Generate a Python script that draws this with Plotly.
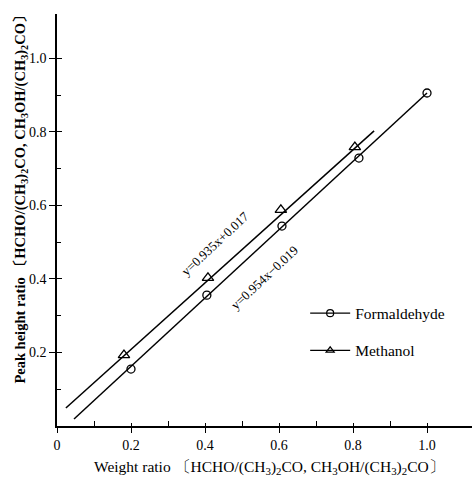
import plotly.graph_objects as go

# Data
form_x = [0.20, 0.405, 0.608, 0.816, 1.00]
form_y = [0.155, 0.356, 0.544, 0.729, 0.906]
meth_x = [0.181, 0.408, 0.605, 0.805]
meth_y = [0.193, 0.403, 0.588, 0.759]
# regression lines as drawn (end points)
form_fit_x = [0.046, 1.00]
form_fit_y = [0.019, 0.906]
meth_fit_x = [0.024, 0.857]
meth_fit_y = [0.049, 0.803]

x_ticks = [0, 0.2, 0.4, 0.6, 0.8, 1.0]
x_ticklabels = ["0", "0.2", "0.4", "0.6", "0.8", "1.0"]
y_ticks = [0.2, 0.4, 0.6, 0.8, 1.0]
y_ticklabels = ["0.2", "0.4", "0.6", "0.8", "1.0"]

FONT = "Liberation Serif"
XR = [0, 1.1216]
YR = [0, 1.121]

fig = go.Figure()
fig.add_trace(go.Scatter(x=form_fit_x, y=form_fit_y, mode="lines",
                         line=dict(color="black", width=1.5), showlegend=False))
fig.add_trace(go.Scatter(x=meth_fit_x, y=meth_fit_y, mode="lines",
                         line=dict(color="black", width=1.5), showlegend=False))
fig.add_trace(go.Scatter(x=form_x, y=form_y, mode="markers", showlegend=False,
                         marker=dict(symbol="circle-open", size=8, color="black",
                                     line=dict(width=1.3))))
fig.add_trace(go.Scatter(x=meth_x, y=meth_y, mode="markers", showlegend=False,
                         marker=dict(symbol="triangle-up-open", size=10, color="black",
                                     line=dict(width=1.3))))
# legend entries
fig.add_trace(go.Scatter(x=[None], y=[None], mode="lines+markers", name="Formaldehyde",
                         legendgroup="a",
                         line=dict(color="black", width=1.2),
                         marker=dict(symbol="circle-open", size=7, color="black",
                                     line=dict(width=1.2))))
fig.add_trace(go.Scatter(x=[None], y=[None], mode="lines+markers", name="Methanol",
                         legendgroup="b",
                         line=dict(color="black", width=1.2),
                         marker=dict(symbol="triangle-up-open", size=7, color="black",
                                     line=dict(width=1.2))))

# secondary axes for ticks crossing the main axes
fig.add_trace(go.Scatter(x=[None], y=[None], xaxis="x2", yaxis="y2", showlegend=False))

fig.update_layout(
    width=472, height=477,
    margin=dict(l=57, r=0, t=14, b=51),
    paper_bgcolor="white", plot_bgcolor="white",
    font=dict(family=FONT, color="black", size=14),
    xaxis=dict(range=XR, showgrid=False, zeroline=False, showline=True,
               linecolor="black", linewidth=1.5,
               tickvals=x_ticks, ticktext=x_ticklabels, ticks="outside",
               ticklen=5, tickwidth=1.2, tickcolor="black",
               tickfont=dict(family=FONT, size=14, color="black"),
               minor=dict(tickvals=[0.1, 0.3, 0.5, 0.7, 0.9], ticks="inside",
                          ticklen=5, tickwidth=1.2, tickcolor="black")),
    yaxis=dict(range=YR, showgrid=False, zeroline=False, showline=True,
               linecolor="black", linewidth=1.5,
               tickvals=y_ticks, ticktext=y_ticklabels, ticks="outside",
               ticklen=6, tickwidth=1.2, tickcolor="black",
               tickfont=dict(family=FONT, size=14, color="black"),
               minor=dict(tickvals=[0.1, 0.3, 0.5, 0.7, 0.9], ticks="inside",
                          ticklen=4, tickwidth=1.2, tickcolor="black")),
    xaxis2=dict(range=XR, overlaying="x", anchor="y2", showgrid=False,
                zeroline=False, showline=False, showticklabels=False,
                tickvals=x_ticks[1:], ticks="inside", ticklen=3, tickwidth=1.2,
                tickcolor="black", side="bottom"),
    yaxis2=dict(range=YR, overlaying="y", anchor="x2", showgrid=False,
                zeroline=False, showline=False, showticklabels=False,
                tickvals=y_ticks, ticks="inside", ticklen=5, tickwidth=1.2,
                tickcolor="black"),
    showlegend=True,
    legend=dict(x=0.598, y=0.314, xanchor="left", yanchor="top",
                bgcolor="rgba(0,0,0,0)", tracegroupgap=14,
                font=dict(family=FONT, size=15.5, color="black"), itemwidth=40),
)

fig.add_annotation(x=0.428, y=0.496, xref="x", yref="y", text="y=0.935x+0.017",
                   textangle=-43, showarrow=False,
                   font=dict(family=FONT, size=13, color="black"))
fig.add_annotation(x=0.56, y=0.405, xref="x", yref="y", text="y=0.954x−0.019",
                   textangle=-43, showarrow=False,
                   font=dict(family=FONT, size=13, color="black"))

fig.add_annotation(x=-0.112, y=0.558, xref="paper", yref="paper",
                   text="<b>Peak height ratio 〔HCHO/(CH<sub>3</sub>)<sub>2</sub>CO, "
                        "CH<sub>3</sub>OH/(CH<sub>3</sub>)<sub>2</sub>CO〕</b>",
                   textangle=-90, showarrow=False,
                   font=dict(family=FONT, size=14.5, color="black"))
fig.add_annotation(x=0.511, y=-0.128, xref="paper", yref="paper",
                   text="Weight ratio 〔HCHO/(CH<sub>3</sub>)<sub>2</sub>CO, "
                        "CH<sub>3</sub>OH/(CH<sub>3</sub>)<sub>2</sub>CO〕",
                   showarrow=False, font=dict(family=FONT, size=15.5, color="black"))

fig.write_html("out.html")
